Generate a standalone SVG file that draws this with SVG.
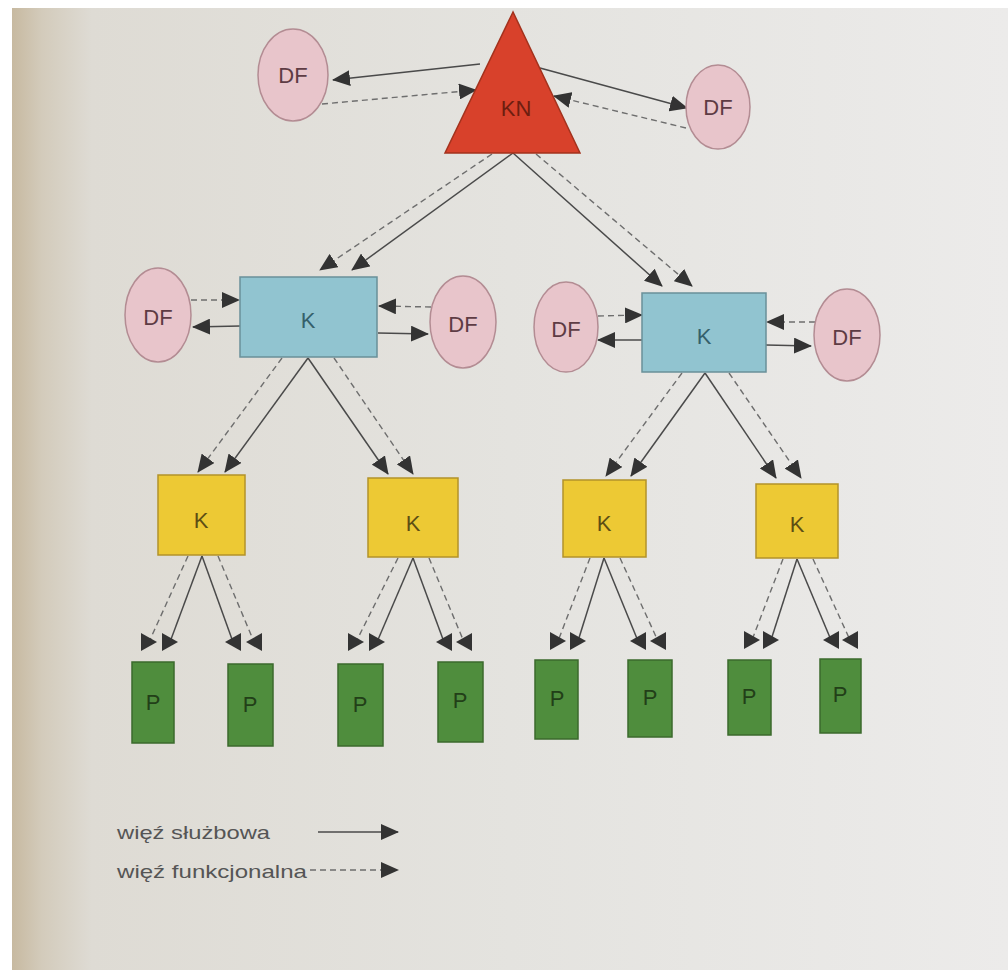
<svg xmlns="http://www.w3.org/2000/svg" width="1008" height="970" viewBox="0 0 1008 970">
<defs>
<linearGradient id="page" x1="0" y1="0" x2="1" y2="0">
<stop offset="0" stop-color="#c7b9a0"/>
<stop offset="0.03" stop-color="#d3cbbb"/>
<stop offset="0.08" stop-color="#dedbd4"/>
<stop offset="0.5" stop-color="#e4e3df"/>
<stop offset="1" stop-color="#ecebea"/>
</linearGradient>
<marker id="a" markerUnits="userSpaceOnUse" markerWidth="18" markerHeight="16" refX="17" refY="8" orient="auto">
<path d="M0,0 L18,8 L0,16 Z" fill="#333"/>
</marker>
<marker id="hR" markerUnits="userSpaceOnUse" markerWidth="16" markerHeight="18" refX="8" refY="9" orient="0">
<path d="M0,0 L16,9 L0,18 Z" fill="#333"/>
</marker>
<marker id="hL" markerUnits="userSpaceOnUse" markerWidth="16" markerHeight="18" refX="8" refY="9" orient="180">
<path d="M0,0 L16,9 L0,18 Z" fill="#333"/>
</marker>
<style>
.s{stroke:#4a4a4a;stroke-width:1.5;fill:none}
.d{stroke:#6e6e6e;stroke-width:1.4;fill:none;stroke-dasharray:6 4}
.df{fill:#e8c5cb;stroke:#b38c93;stroke-width:1.5}
.blue{fill:#91c4d0;stroke:#6a9099;stroke-width:1.5}
.yel{fill:#edc934;stroke:#b3922a;stroke-width:1.5}
.grn{fill:#4f8d3d;stroke:#3b6a2d;stroke-width:1.5}
.t{font-family:"Liberation Sans",Arial,sans-serif;font-size:22px;text-anchor:middle;dominant-baseline:central}
.tdf{fill:#5e3c44}
.tk{fill:#35606b}
.ty{fill:#5e4e14}
.tp{fill:#223f18}
.leg{font-family:"Liberation Sans",Arial,sans-serif;font-size:19px;fill:#555555}
</style>
</defs>
<rect x="0" y="0" width="1008" height="970" fill="#ffffff"/>
<rect x="12" y="8" width="996" height="962" fill="url(#page)"/>

<g id="connectors">
<!-- top -->
<line class="s" x1="480" y1="64" x2="333" y2="80" marker-end="url(#a)"/>
<line class="d" x1="322" y1="104" x2="476" y2="90" marker-end="url(#a)"/>
<line class="s" x1="540" y1="68" x2="687" y2="108" marker-end="url(#a)"/>
<line class="d" x1="686" y1="128" x2="554" y2="96" marker-end="url(#a)"/>
<!-- triangle to blue -->
<line class="d" x1="492" y1="154" x2="320" y2="270" marker-end="url(#a)"/>
<line class="s" x1="513" y1="153" x2="352" y2="270" marker-end="url(#a)"/>
<line class="s" x1="513" y1="153" x2="662" y2="286" marker-end="url(#a)"/>
<line class="d" x1="536" y1="154" x2="692" y2="286" marker-end="url(#a)"/>
<!-- blue K1 to DFs -->
<line class="d" x1="191" y1="300" x2="239" y2="300" marker-end="url(#a)"/>
<line class="s" x1="240" y1="326" x2="193" y2="327" marker-end="url(#a)"/>
<line class="d" x1="431" y1="307" x2="379" y2="306" marker-end="url(#a)"/>
<line class="s" x1="378" y1="333" x2="428" y2="334" marker-end="url(#a)"/>
<!-- blue K2 to DFs -->
<line class="d" x1="598" y1="316" x2="642" y2="315" marker-end="url(#a)"/>
<line class="s" x1="642" y1="340" x2="598" y2="340" marker-end="url(#a)"/>
<line class="d" x1="815" y1="322" x2="767" y2="322" marker-end="url(#a)"/>
<line class="s" x1="766" y1="345" x2="811" y2="346" marker-end="url(#a)"/>
<!-- K1 to yellow -->
<line class="d" x1="282" y1="358" x2="198" y2="472" marker-end="url(#a)"/>
<line class="s" x1="308" y1="358" x2="225" y2="472" marker-end="url(#a)"/>
<line class="s" x1="308" y1="358" x2="388" y2="474" marker-end="url(#a)"/>
<line class="d" x1="334" y1="358" x2="413" y2="474" marker-end="url(#a)"/>
<!-- K2 to yellow -->
<line class="d" x1="682" y1="373" x2="606" y2="476" marker-end="url(#a)"/>
<line class="s" x1="705" y1="373" x2="631" y2="476" marker-end="url(#a)"/>
<line class="s" x1="705" y1="373" x2="776" y2="478" marker-end="url(#a)"/>
<line class="d" x1="729" y1="373" x2="801" y2="478" marker-end="url(#a)"/>
<!-- yellow 1 to P -->
<line class="d" x1="188" y1="556" x2="149" y2="642" marker-end="url(#hR)"/>
<line class="s" x1="202" y1="556" x2="170" y2="642" marker-end="url(#hR)"/>
<line class="s" x1="202" y1="556" x2="233" y2="642" marker-end="url(#hL)"/>
<line class="d" x1="218" y1="556" x2="254" y2="642" marker-end="url(#hL)"/>
<!-- yellow 2 to P -->
<line class="d" x1="398" y1="558" x2="356" y2="642" marker-end="url(#hR)"/>
<line class="s" x1="413" y1="558" x2="377" y2="642" marker-end="url(#hR)"/>
<line class="s" x1="413" y1="558" x2="444" y2="642" marker-end="url(#hL)"/>
<line class="d" x1="429" y1="558" x2="464" y2="642" marker-end="url(#hL)"/>
<!-- yellow 3 to P -->
<line class="d" x1="590" y1="558" x2="558" y2="641" marker-end="url(#hR)"/>
<line class="s" x1="604" y1="558" x2="578" y2="641" marker-end="url(#hR)"/>
<line class="s" x1="604" y1="558" x2="638" y2="641" marker-end="url(#hL)"/>
<line class="d" x1="620" y1="558" x2="658" y2="641" marker-end="url(#hL)"/>
<!-- yellow 4 to P -->
<line class="d" x1="783" y1="559" x2="752" y2="640" marker-end="url(#hR)"/>
<line class="s" x1="797" y1="559" x2="771" y2="640" marker-end="url(#hR)"/>
<line class="s" x1="797" y1="559" x2="831" y2="640" marker-end="url(#hL)"/>
<line class="d" x1="813" y1="559" x2="850" y2="640" marker-end="url(#hL)"/>
</g>

<g id="KN">
<polygon points="513,12 445,153 580,153" fill="#d8412b" stroke="#a3321d" stroke-width="1.5"/>
<text class="t" x="516" y="108" fill="#6e1e10" font-size="20">KN</text>
</g>
<g id="DF-top-left"><ellipse class="df" cx="293" cy="75" rx="35" ry="46"/><text class="t tdf" x="293" y="75">DF</text></g>
<g id="DF-top-right"><ellipse class="df" cx="718" cy="107" rx="32" ry="42"/><text class="t tdf" x="718" y="107">DF</text></g>

<g id="K-blue-1"><rect class="blue" x="240" y="277" width="137" height="80"/><text class="t tk" x="308" y="320">K</text></g>
<g id="K-blue-2"><rect class="blue" x="642" y="293" width="124" height="79"/><text class="t tk" x="704" y="336">K</text></g>

<g id="DF-1"><ellipse class="df" cx="158" cy="315" rx="33" ry="47"/><text class="t tdf" x="158" y="317">DF</text></g>
<g id="DF-2"><ellipse class="df" cx="463" cy="322" rx="33" ry="46"/><text class="t tdf" x="463" y="324">DF</text></g>
<g id="DF-3"><ellipse class="df" cx="566" cy="327" rx="32" ry="45"/><text class="t tdf" x="566" y="329">DF</text></g>
<g id="DF-4"><ellipse class="df" cx="847" cy="335" rx="33" ry="46"/><text class="t tdf" x="847" y="337">DF</text></g>

<g id="K-yel-1"><rect class="yel" x="158" y="475" width="87" height="80"/><text class="t ty" x="201" y="520">K</text></g>
<g id="K-yel-2"><rect class="yel" x="368" y="478" width="90" height="79"/><text class="t ty" x="413" y="523">K</text></g>
<g id="K-yel-3"><rect class="yel" x="563" y="480" width="83" height="77"/><text class="t ty" x="604" y="523">K</text></g>
<g id="K-yel-4"><rect class="yel" x="756" y="484" width="82" height="74"/><text class="t ty" x="797" y="524">K</text></g>

<g id="P-1"><rect class="grn" x="132" y="662" width="42" height="81"/><text class="t tp" x="153" y="702">P</text></g>
<g id="P-2"><rect class="grn" x="228" y="664" width="45" height="82"/><text class="t tp" x="250" y="704">P</text></g>
<g id="P-3"><rect class="grn" x="338" y="664" width="45" height="82"/><text class="t tp" x="360" y="704">P</text></g>
<g id="P-4"><rect class="grn" x="438" y="662" width="45" height="80"/><text class="t tp" x="460" y="700">P</text></g>
<g id="P-5"><rect class="grn" x="535" y="660" width="43" height="79"/><text class="t tp" x="557" y="698">P</text></g>
<g id="P-6"><rect class="grn" x="628" y="660" width="44" height="77"/><text class="t tp" x="650" y="697">P</text></g>
<g id="P-7"><rect class="grn" x="728" y="660" width="43" height="75"/><text class="t tp" x="749" y="696">P</text></g>
<g id="P-8"><rect class="grn" x="820" y="659" width="41" height="74"/><text class="t tp" x="840" y="694">P</text></g>

<g id="legend">
<text class="leg" x="117" y="839" textLength="153" lengthAdjust="spacingAndGlyphs">więź służbowa</text>
<line class="s" x1="318" y1="832" x2="398" y2="832" marker-end="url(#a)"/>
<text class="leg" x="117" y="878" textLength="190" lengthAdjust="spacingAndGlyphs">więź funkcjonalna</text>
<line class="d" x1="310" y1="870" x2="398" y2="870" marker-end="url(#a)"/>
</g>
</svg>
